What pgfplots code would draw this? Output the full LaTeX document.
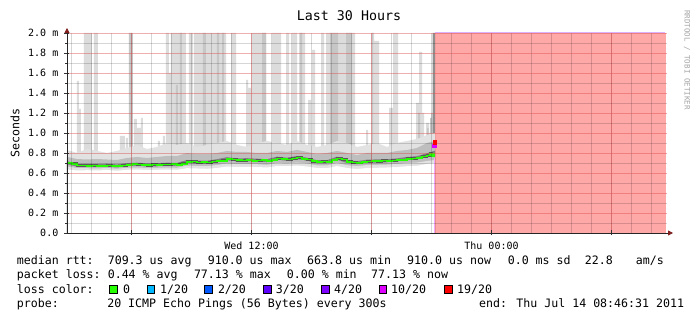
\documentclass[border=0pt]{standalone}
\usepackage{fontspec}
\setmainfont{DejaVu Sans Mono}
\usepackage{pgfplots}
\usepackage{pgfplotstable}
\pgfplotsset{compat=1.18}
\usetikzlibrary{arrows.meta}

\definecolor{mgrid}{RGB}{222,79,79}
\definecolor{arrowred}{RGB}{128,30,30}
\definecolor{cZ}{HTML}{26FF00}
\definecolor{cA}{HTML}{00B8FF}
\definecolor{cB}{HTML}{0059FF}
\definecolor{cC}{HTML}{5E00FF}
\definecolor{cD}{HTML}{7E00FF}
\definecolor{cE}{HTML}{DD00FF}
\definecolor{cF}{HTML}{FF0000}
\definecolor{smokeL}{HTML}{E2E2E2}
\definecolor{smokeM}{HTML}{BEBEBE}
\definecolor{smokeD}{HTML}{808080}
\definecolor{barL}{HTML}{DCDCDC}
\definecolor{barM}{HTML}{C6C6C6}
\definecolor{barD}{HTML}{8E8E8E}

\pgfplotstableread{
h med
0.00 0.700
0.25 0.692
0.50 0.676
0.75 0.674
1.00 0.672
1.25 0.676
1.50 0.671
1.75 0.669
2.00 0.675
2.25 0.671
2.50 0.668
2.75 0.674
3.00 0.680
3.25 0.690
3.50 0.684
3.75 0.679
4.00 0.677
4.25 0.686
4.50 0.680
4.75 0.684
5.00 0.686
5.25 0.690
5.50 0.682
5.75 0.692
6.00 0.712
6.25 0.716
6.50 0.704
6.75 0.711
7.00 0.704
7.25 0.716
7.50 0.721
7.75 0.722
8.00 0.741
8.25 0.734
8.50 0.727
8.75 0.725
9.00 0.731
9.25 0.720
9.50 0.726
9.75 0.729
10.00 0.719
10.25 0.731
10.50 0.746
10.75 0.739
11.00 0.734
11.25 0.743
11.50 0.753
11.75 0.740
12.00 0.735
12.25 0.717
12.50 0.709
12.75 0.713
13.00 0.709
13.25 0.731
13.50 0.746
13.75 0.734
14.00 0.712
14.25 0.705
14.50 0.699
14.75 0.710
15.00 0.716
15.25 0.721
15.50 0.717
15.75 0.723
16.00 0.719
16.25 0.726
16.50 0.729
16.75 0.731
17.00 0.742
17.25 0.746
17.50 0.751
17.75 0.766
18.00 0.774
18.15 0.792
18.25 0.768
18.35 0.800
}\mediantable

\pgfplotstableread{
h lo1 hi1 lo2 hi2 lo3 hi3
0.00 0.635 0.83 0.665 0.76 0.686 0.718
0.50 0.625 0.80 0.650 0.74 0.662 0.693
1.00 0.628 0.84 0.648 0.735 0.659 0.690
1.50 0.625 0.82 0.645 0.74 0.659 0.690
2.00 0.630 0.80 0.650 0.735 0.662 0.693
2.50 0.622 0.82 0.643 0.73 0.655 0.686
3.00 0.632 0.85 0.652 0.75 0.667 0.698
3.50 0.635 0.88 0.655 0.76 0.672 0.703
4.00 0.630 0.84 0.650 0.75 0.665 0.696
4.50 0.632 0.86 0.652 0.76 0.667 0.698
5.00 0.635 0.90 0.655 0.77 0.672 0.703
5.50 0.632 0.88 0.652 0.77 0.670 0.701
6.00 0.648 0.90 0.675 0.80 0.699 0.730
6.50 0.645 0.86 0.670 0.79 0.692 0.723
7.00 0.642 0.88 0.668 0.79 0.692 0.723
7.50 0.650 0.90 0.680 0.80 0.707 0.738
8.00 0.665 0.92 0.695 0.82 0.727 0.758
8.50 0.660 0.88 0.688 0.81 0.715 0.746
9.00 0.662 0.86 0.690 0.81 0.717 0.748
9.50 0.660 0.90 0.688 0.80 0.712 0.743
10.00 0.655 0.92 0.682 0.80 0.707 0.738
10.50 0.670 0.90 0.700 0.82 0.732 0.763
11.00 0.668 0.88 0.695 0.81 0.722 0.753
11.50 0.675 0.92 0.705 0.83 0.739 0.770
12.00 0.665 0.88 0.695 0.81 0.722 0.753
12.50 0.650 0.86 0.675 0.79 0.697 0.728
13.00 0.648 0.88 0.675 0.80 0.697 0.728
13.50 0.670 0.92 0.700 0.82 0.732 0.763
14.00 0.650 0.90 0.678 0.80 0.699 0.730
14.50 0.640 0.86 0.668 0.78 0.687 0.718
15.00 0.650 0.88 0.680 0.80 0.702 0.733
15.50 0.652 0.90 0.682 0.80 0.705 0.736
16.00 0.655 0.86 0.685 0.80 0.707 0.738
16.50 0.660 0.90 0.690 0.82 0.715 0.746
17.00 0.668 0.92 0.700 0.83 0.729 0.760
17.50 0.672 0.94 0.705 0.85 0.737 0.768
18.00 0.690 0.98 0.720 0.90 0.762 0.798
18.40 0.700 1.00 0.730 0.92 0.784 0.823
}\bandtable

\begin{document}
\begin{tikzpicture}
\useasboundingbox (-67pt,-88pt) rectangle (630pt,233pt);
\fill[white] (-67pt,-88pt) rectangle (630pt,233pt);
\begin{axis}[
  at={(0pt,0pt)}, anchor=south west,
  scale only axis, width=600pt, height=200pt,
  xmin=0, xmax=30, ymin=0, ymax=2,
  axis on top,
  axis lines*=left,
  axis line style={black!85, line width=0.8pt},
  x axis line style={shorten >=-6pt, -{Triangle[length=5pt,width=5pt,color=arrowred]}},
  y axis line style={shorten >=-5pt, -{Triangle[length=5pt,width=5pt,color=arrowred]}},
  xtick={3.2247,9.2247,15.2247,21.2247,27.2247},
  xticklabels={,Wed 12:00,,Thu 00:00,},
  minor xtick={0.2247,1.2247,...,29.2247},
  ytick={0,0.2,0.4,0.6,0.8,1.0,1.2,1.4,1.6,1.8,2.0},
  yticklabels={0.0,0.2 m,0.4 m,0.6 m,0.8 m,1.0 m,1.2 m,1.4 m,1.6 m,1.8 m,2.0 m},
  minor ytick={0.1,0.3,0.5,0.7,0.9,1.1,1.3,1.5,1.7,1.9},
  grid=both,
  major grid style={draw=mgrid, opacity=0.45, line width=0.8pt},
  minor grid style={draw=black, opacity=0.16, line width=0.8pt},
  tick align=center,
  major tick length=5pt,
  minor tick length=3pt,
  tick style={black!80, line width=0.6pt},
  minor x tick style={draw=none},
  /pgf/number format/assume math mode=true,
  xticklabel style={font=\fontsize{10}{12}\selectfont, anchor=base, inner sep=0pt, yshift=-13.7pt},
  yticklabel style={font=\fontsize{10}{12}\selectfont, anchor=east, inner sep=0pt, xshift=-6pt},
]
% tall smoke bars
\addplot[const plot, draw=none, fill=barL] coordinates {
(0.50,1.52)(0.60,1.24)(0.70,0)
(0.85,2)(1.25,0)
(1.35,2)(1.55,0)
(2.65,0.97)(2.90,0)(2.95,0.95)(3.05,0)
(3.35,1.14)(3.50,1.05)(3.70,1.15)(3.80,0)
(4.55,0.92)(4.65,0)(4.80,0.97)(4.90,0)
(4.95,2)(5.10,1.6)(5.20,2)(5.95,0)
(6.10,2)(6.30,0)
(6.35,2)(7.95,0)
(8.20,2)(8.45,0)
(8.95,1.53)(9.05,1.45)(9.20,0)
(9.25,2)(9.95,0)
(10.25,2)(10.70,0)
(10.95,2)(11.10,0)
(11.25,2)(11.50,0)
(11.60,2)(11.90,0)
(12.05,1.33)(12.20,0)(12.25,1.83)(12.40,0)
(12.70,2)(12.85,0)
(12.95,2)(14.40,0)
(14.95,1.03)(15.05,0)
(15.25,2)(15.35,1.92)(15.60,0)
(16.10,1.25)(16.30,2)(16.55,0)
(17.45,1.3)(17.60,1.81)(17.75,1.2)(17.85,0)
(17.95,1.1)(18.10,1.0)(18.20,1.2)(18.30,0)
(18.40,0)} \closedcycle;
\addplot[const plot, draw=none, fill=barM] coordinates {
(3.10,2)(3.30,0)
(5.45,1.48)(5.55,0)
(5.65,2)(5.75,0)
(6.80,2)(6.95,0)
(7.50,2)(7.60,0)
(7.75,2)(7.85,0)
(9.75,2)(9.95,0)
(11.65,2)(11.75,0)
(13.15,2)(13.55,0)
(13.95,2)(14.25,0)
(15.25,2)(15.30,0)
(17.55,1.2)(17.65,0)
(18.00,1.05)(18.08,0)(18.15,1.15)(18.25,0)
(18.40,0)} \closedcycle;
\addplot[const plot, draw=none, fill=barD] coordinates {(18.28,2)(18.40,0)(18.41,0)} \closedcycle;
% smoke bands (layered)
\addplot[draw=none, fill=smokeL] table[x=h, y=hi1] {\bandtable} \closedcycle;
\addplot[draw=none, fill=smokeM] table[x=h, y=hi2] {\bandtable} \closedcycle;
\addplot[draw=none, fill=smokeD] table[x=h, y=hi3] {\bandtable} \closedcycle;
\addplot[draw=none, fill=smokeM] table[x=h, y=lo3] {\bandtable} \closedcycle;
\addplot[draw=none, fill=smokeL] table[x=h, y=lo2] {\bandtable} \closedcycle;
\addplot[draw=none, fill=white] table[x=h, y=lo1] {\bandtable} \closedcycle;
% median
\addplot[const plot, color=black!65, line width=2.6pt] table[x=h, y=med] {\mediantable};
\addplot[const plot, color=cZ, line width=1.6pt] table[x=h, y=med] {\mediantable};
\addplot[only marks, mark=square*, mark size=1.6pt, color=cE] coordinates {(18.36,0.873)};
\addplot[only marks, mark=square*, mark size=1.6pt, color=cF] coordinates {(18.39,0.907)};
% loss region
\addplot[draw=none, fill=red, fill opacity=0.34] coordinates {(18.38,2)(29.95,2)} \closedcycle;
\addplot[color=cE!35, line width=1.3pt] coordinates {(18.37,0)(18.37,0.75)};
\addplot[color=cD!30, line width=1pt] coordinates {(18.40,2)(29.90,2)};
\end{axis}
\node[font=\fontsize{13.3}{16}\selectfont, anchor=base] at (282pt,212pt) {Last 30 Hours};
\node[rotate=90, font=\fontsize{11.6}{14}\selectfont] at (-52pt,100pt) {Seconds};
\node[rotate=-90, font=\fontsize{7.5}{9}\selectfont, text=black!35] at (620pt,173pt) {RRDTOOL / TOBI OETIKER};
\begin{scope}[every node/.style={font=\fontsize{11.6}{14}\selectfont, anchor=base west, inner sep=0pt}]
\node at (-50.3pt,-32pt) {median rtt:};
\node at (40.6pt,-32pt) {709.3 us avg};
\node at (140.6pt,-32pt) {910.0 us max};
\node at (240pt,-32pt) {663.8 us min};
\node at (340pt,-32pt) {910.0 us now};
\node at (440.6pt,-32pt) {0.0 ms sd};
\node at (517.6pt,-32pt) {22.8};
\node at (568.6pt,-32pt) {am/s};
\node at (-50.3pt,-46pt) {packet loss:};
\node at (40.6pt,-46pt) {0.44 \% avg};
\node at (126.8pt,-46pt) {77.13 \% max};
\node at (219.7pt,-46pt) {0.00 \% min};
\node at (304pt,-46pt) {77.13 \% now};
\node at (-50.3pt,-60.3pt) {loss color:};
\node at (56pt,-60.3pt) {0};
\node at (93pt,-60.3pt) {1/20};
\node at (150.8pt,-60.3pt) {2/20};
\node at (208.6pt,-60.3pt) {3/20};
\node at (267pt,-60.3pt) {4/20};
\node at (324pt,-60.3pt) {10/20};
\node at (390pt,-60.3pt) {19/20};
\node at (-50.3pt,-74.3pt) {probe:};
\node at (40.1pt,-74.3pt) {20 ICMP Echo Pings (56 Bytes) every 300s};
\node at (412pt,-74.3pt) {end: Thu Jul 14 08:46:31 2011};
\end{scope}
\begin{scope}[every node/.style={draw=black, line width=0.6pt, minimum width=7.5pt, minimum height=7.5pt, inner sep=0pt, anchor=south west}]
\node[fill=cZ] at (42.3pt,-60.3pt) {};
\node[fill=cA] at (79.7pt,-60.3pt) {};
\node[fill=cB] at (137.4pt,-60.3pt) {};
\node[fill=cC] at (196pt,-60.3pt) {};
\node[fill=cD] at (254pt,-60.3pt) {};
\node[fill=cE] at (311.7pt,-60.3pt) {};
\node[fill=cF] at (377.4pt,-60.3pt) {};
\end{scope}
\end{tikzpicture}
\end{document}
